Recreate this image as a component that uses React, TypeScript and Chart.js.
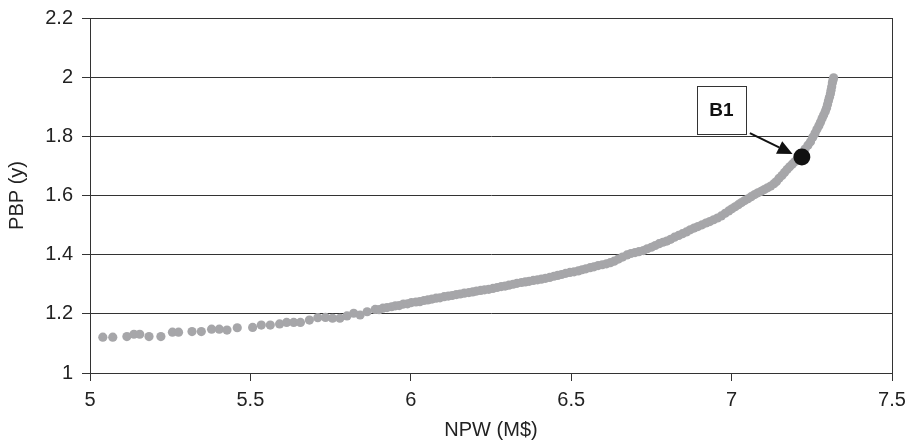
import React, { useEffect, useRef } from "react";
import { Chart, registerables } from "chart.js";

Chart.register(...registerables);

// NPW (M$) values of the Pareto points
const npw = [
  5.04, 5.071, 5.115, 5.137, 5.155, 5.184, 5.221, 5.257, 5.276, 5.318, 5.347, 5.379, 5.403, 5.427, 5.459,
  5.507, 5.534, 5.562, 5.591, 5.613, 5.635, 5.656, 5.684, 5.71, 5.734, 5.756, 5.779, 5.801, 5.822, 5.842,
  5.864, 5.889, 5.901, 5.913, 5.926, 5.94, 5.952, 5.964, 5.977, 5.99, 6.002, 6.016, 6.028, 6.041, 6.053,
  6.066, 6.079, 6.091, 6.104, 6.117, 6.129, 6.142, 6.154, 6.167, 6.181, 6.193, 6.205, 6.218, 6.23, 6.243,
  6.256, 6.269, 6.282, 6.294, 6.306, 6.319, 6.331, 6.345, 6.357, 6.369, 6.382, 6.395, 6.407, 6.42, 6.433,
  6.446, 6.458, 6.47, 6.483, 6.496, 6.509, 6.522, 6.534, 6.546, 6.559, 6.571, 6.584, 6.597, 6.61, 6.622,
  6.634, 6.647, 6.66, 6.674, 6.686, 6.699, 6.711, 6.725, 6.737, 6.75, 6.762, 6.774, 6.786, 6.798, 6.81,
  6.822, 6.835, 6.847, 6.859, 6.871, 6.883, 6.895, 6.908, 6.92, 6.932, 6.944, 6.956, 6.968, 6.98, 6.991,
  7.001, 7.011, 7.021, 7.031, 7.041, 7.051, 7.061, 7.072, 7.082, 7.092, 7.102, 7.112, 7.122, 7.132, 7.14,
  7.148, 7.157, 7.165, 7.173, 7.181, 7.189, 7.197, 7.205, 7.213, 7.221, 7.229, 7.238, 7.246, 7.253, 7.26,
  7.266, 7.272, 7.277, 7.282, 7.287, 7.292, 7.296, 7.299, 7.302, 7.305, 7.308, 7.31, 7.312, 7.314, 7.316,
  7.318,
];

// PBP (y) values of the Pareto points
const pbp = [
  1.121, 1.121, 1.123, 1.131, 1.131, 1.123, 1.123, 1.138, 1.138, 1.14, 1.14, 1.148, 1.148, 1.145, 1.153,
  1.154, 1.162, 1.162, 1.166, 1.171, 1.171, 1.171, 1.179, 1.187, 1.188, 1.185, 1.185, 1.193, 1.202, 1.196,
  1.207, 1.215, 1.214, 1.219, 1.221, 1.224, 1.227, 1.228, 1.233, 1.234, 1.238, 1.24, 1.241, 1.245, 1.247,
  1.25, 1.253, 1.254, 1.258, 1.26, 1.262, 1.265, 1.267, 1.27, 1.272, 1.274, 1.277, 1.279, 1.281, 1.283,
  1.286, 1.289, 1.292, 1.294, 1.297, 1.3, 1.303, 1.306, 1.308, 1.31, 1.313, 1.315, 1.317, 1.32, 1.323,
  1.327, 1.33, 1.333, 1.337, 1.34, 1.342, 1.345, 1.349, 1.352, 1.356, 1.359, 1.363, 1.366, 1.369, 1.373,
  1.378, 1.385, 1.392, 1.399, 1.404, 1.407, 1.41, 1.414, 1.42, 1.425, 1.431, 1.437, 1.442, 1.446, 1.452,
  1.459, 1.465, 1.471, 1.477, 1.484, 1.49, 1.495, 1.501, 1.507, 1.512, 1.518, 1.524, 1.531, 1.54, 1.548,
  1.555, 1.562, 1.569, 1.576, 1.583, 1.589, 1.596, 1.603, 1.609, 1.614, 1.62, 1.626, 1.632, 1.64, 1.647,
  1.658, 1.668, 1.678, 1.688, 1.697, 1.706, 1.714, 1.722, 1.731, 1.744, 1.757, 1.77, 1.782, 1.797, 1.81,
  1.824, 1.836, 1.848, 1.86, 1.872, 1.884, 1.896, 1.908, 1.92, 1.932, 1.944, 1.956, 1.968, 1.98, 1.99,
  1.998,
];

// Highlighted solution B1
const b1Npw = [7.219];
const b1Pbp = [1.73];
const b1Label = "B1";

const xTicks = [5, 5.5, 6, 6.5, 7, 7.5];
const yTicks = [1, 1.2, 1.4, 1.6, 1.8, 2, 2.2];
const xTitle = "NPW (M$)";
const yTitle = "PBP (y)";

const FONT = "'Liberation Sans', Arial, Helvetica, sans-serif";
const TEXT = "#222";
const LINE = "#333";

const annotationPlugin = {
  id: "b1annot",
  beforeDatasetsDraw(chart: any) {
    const { ctx, chartArea } = chart;
    ctx.save();
    ctx.strokeStyle = LINE;
    ctx.lineWidth = 1;
    ctx.strokeRect(
      Math.round(chartArea.left) + 0.5,
      Math.round(chartArea.top) + 0.5,
      Math.round(chartArea.right - chartArea.left),
      Math.round(chartArea.bottom - chartArea.top)
    );
    ctx.restore();
  },
  afterDatasetsDraw(chart: any) {
    const { ctx } = chart;
    const xs = chart.scales.x;
    const ys = chart.scales.y;
    // label box (in data units)
    const bx0 = xs.getPixelForValue(6.892);
    const bx1 = xs.getPixelForValue(7.045);
    const by0 = ys.getPixelForValue(1.97);
    const by1 = ys.getPixelForValue(1.808);
    ctx.save();
    ctx.fillStyle = "#fff";
    ctx.fillRect(bx0, by0, bx1 - bx0, by1 - by0);
    ctx.strokeStyle = LINE;
    ctx.lineWidth = 1;
    ctx.strokeRect(Math.round(bx0) + 0.5, Math.round(by0) + 0.5, Math.round(bx1 - bx0), Math.round(by1 - by0));
    ctx.fillStyle = "#111";
    ctx.font = `bold 19px ${FONT}`;
    ctx.textAlign = "center";
    ctx.textBaseline = "middle";
    ctx.fillText(b1Label, (bx0 + bx1) / 2, (by0 + by1) / 2 + 1);
    // arrow
    const ax0 = xs.getPixelForValue(7.057);
    const ay0 = ys.getPixelForValue(1.811);
    const ax1 = xs.getPixelForValue(7.19);
    const ay1 = ys.getPixelForValue(1.74);
    const ang = Math.atan2(ay1 - ay0, ax1 - ax0);
    const headLen = 15;
    const headW = 7;
    const hx = ax1 - headLen * Math.cos(ang);
    const hy = ay1 - headLen * Math.sin(ang);
    ctx.strokeStyle = "#111";
    ctx.lineWidth = 2;
    ctx.beginPath();
    ctx.moveTo(ax0, ay0);
    ctx.lineTo(hx, hy);
    ctx.stroke();
    ctx.fillStyle = "#111";
    ctx.beginPath();
    ctx.moveTo(ax1, ay1);
    ctx.lineTo(hx + headW * Math.sin(ang), hy - headW * Math.cos(ang));
    ctx.lineTo(hx - headW * Math.sin(ang), hy + headW * Math.cos(ang));
    ctx.closePath();
    ctx.fill();
    ctx.restore();
  },
};

export default function App() {
  const ref = useRef<HTMLCanvasElement | null>(null);
  useEffect(() => {
    if (!ref.current) return;
    const chart = new Chart(ref.current, {
      type: "scatter",
      data: {
        datasets: [
          {
            label: b1Label,
            data: b1Npw.map((x, i) => ({ x, y: b1Pbp[i] })),
            pointRadius: 8.5,
            pointBackgroundColor: "#111",
            pointBorderWidth: 0,
            pointHoverRadius: 8.5,
          },
          {
            label: "Pareto front",
            data: npw.map((x, i) => ({ x, y: pbp[i] })),
            pointRadius: 4.6,
            pointBackgroundColor: "#a6a6a9",
            pointBorderWidth: 0,
            pointHoverRadius: 4.6,
          },
        ],
      },
      options: {
        animation: false,
        responsive: true,
        maintainAspectRatio: false,
        layout: { padding: { top: 18, right: 18, left: 0, bottom: 0 } },
        plugins: { legend: { display: false }, tooltip: { enabled: false } },
        scales: {
          x: {
            type: "linear",
            min: 5,
            max: 7.5,
            afterBuildTicks: (s: any) => {
              s.ticks = xTicks.map((v) => ({ value: v }));
            },
            afterFit: (s: any) => {
              s.height = 68;
              s.paddingLeft = 0;
              s.paddingRight = 0;
            },
            ticks: {
              callback: (v: any) => String(v),
              color: TEXT,
              font: { family: FONT, size: 20 },
              padding: 7,
              maxRotation: 0,
              autoSkip: false,
            },
            grid: { drawOnChartArea: false, drawTicks: true, tickLength: 8, color: LINE },
            border: { color: LINE, width: 1 },
            title: {
              display: true,
              text: xTitle,
              color: TEXT,
              font: { family: FONT, size: 20 },
              padding: { top: 0, bottom: -1 },
            },
          },
          y: {
            type: "linear",
            min: 1,
            max: 2.2,
            afterBuildTicks: (s: any) => {
              s.ticks = yTicks.map((v) => ({ value: v }));
            },
            afterFit: (s: any) => {
              s.width = 90;
              s.paddingTop = 0;
              s.paddingBottom = 0;
            },
            ticks: {
              callback: (v: any) => String(Math.round(v * 10) / 10),
              color: TEXT,
              font: { family: FONT, size: 20 },
              padding: 9,
              autoSkip: false,
            },
            grid: { drawOnChartArea: true, drawTicks: true, tickLength: 8, color: LINE },
            border: { color: LINE, width: 1 },
            title: {
              display: true,
              text: yTitle,
              color: TEXT,
              font: { family: FONT, size: 20 },
              padding: { top: 5, bottom: 0 },
            },
          },
        },
      },
      plugins: [annotationPlugin],
    });
    return () => chart.destroy();
  }, []);
  return (
    <div style={{ position: "absolute", left: 0, top: 0, width: 910, height: 441, background: "#fff" }}>
      <canvas ref={ref} />
    </div>
  );
}
